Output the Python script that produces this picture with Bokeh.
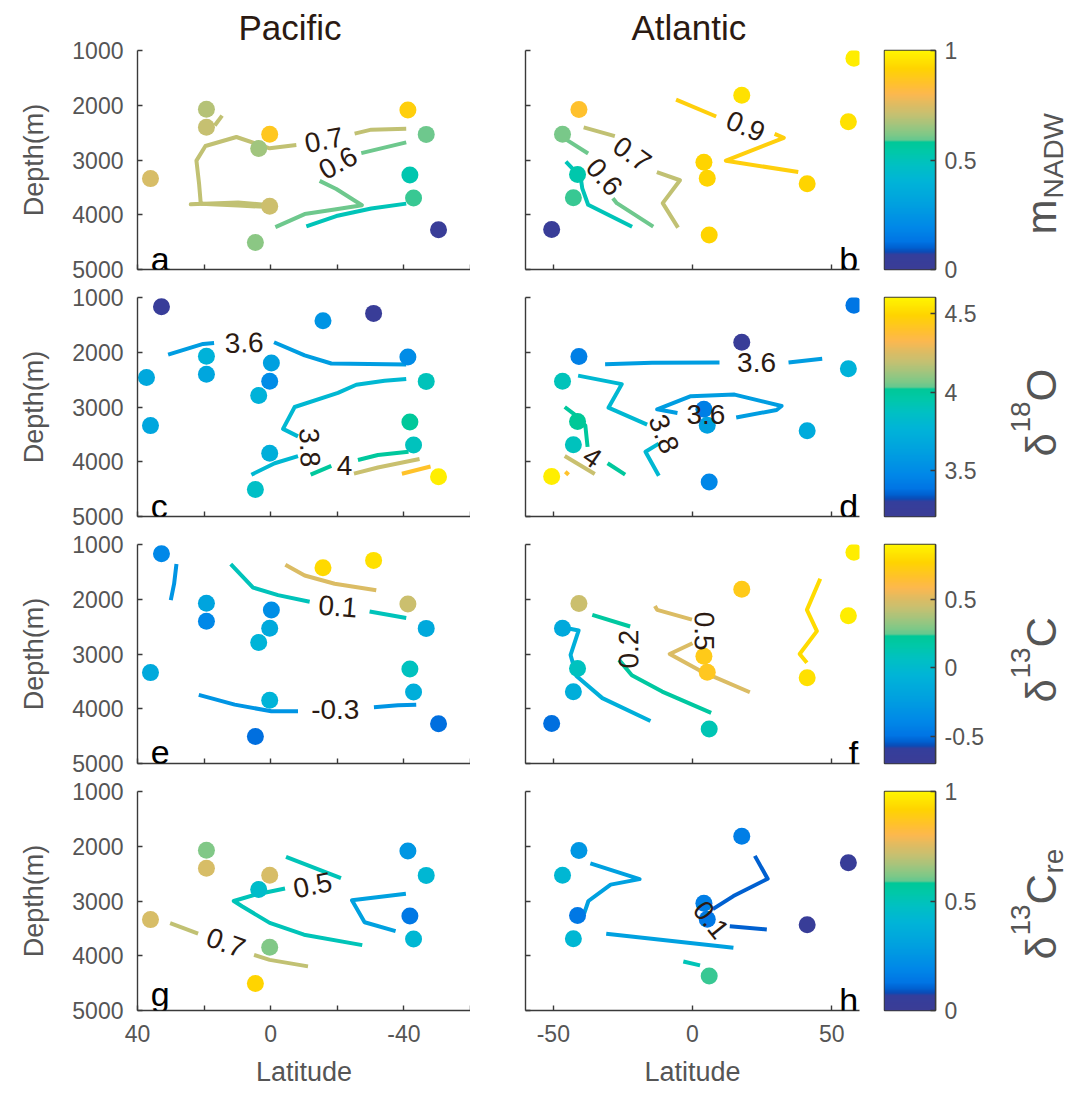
import numpy as np
from bokeh.plotting import figure
from bokeh.layouts import column, row
from bokeh.models import Range1d, FixedTicker, LinearColorMapper, ColumnDataSource, Label
from bokeh.core.properties import value
from bokeh.embed import file_html
from bokeh.resources import INLINE

# ------------------------------------------------------------------ data
# Panel a : m_NADW, Pacific
a_lat = [19.3, 19.3, 0.3, 3.6, 36.1, 0.3, 4.6, -41.2, -46.7, -41.8, -42.9, -50.4]
a_dep = [2072, 2402, 2530, 2790, 3340, 3845, 4505, 2085, 2532, 3275, 3695, 4275]
a_val = [0.685, 0.71, 0.87, 0.66, 0.74, 0.72, 0.63, 0.90, 0.60, 0.52, 0.588, 0.02]
a_line_lev = [0.7, 0.7, 0.7, 0.7, 0.6, 0.6, 0.5]
a_line_lat = [[16.8, 14.6],
              [-7.7, 0.3, 10.3, 19.6, 22.3, 21.5, 21.0, 24.0, 9.8, 0.3],
              [21.0, 9.8, 0.3],
              [-25.2, -30.2, -40.7],
              [-27.2, -40.7],
              [-14.7, -19.7, -27.4, -19.2, -10.2, -1.4],
              [-10.7, -19.7, -30.2, -40.7]]
a_line_dep = [[2369, 2190],
              [2726, 2786, 2580, 2744, 3012, 3440, 3797, 3809, 3775, 3825],
              [3800, 3830, 3860],
              [2518, 2446, 2429],
              [2875, 2678],
              [3381, 3530, 3827, 3905, 3988, 4226],
              [4214, 4024, 3887, 3797]]
a_lab_txt = ["0.7", "0.6"]
a_lab_lat = [-16.0, -20.2]
a_lab_dep = [2637, 3053]
a_lab_ang = [0.19, 0.5]

# Panel b : m_NADW, Atlantic
b_lat = [58.0, 17.7, 56.0, -40.8, -46.7, 4.1, 5.3, 41.2, -41.3, -42.8, -50.6, 6.0]
b_dep = [1140, 1818, 2300, 2078, 2528, 3040, 3335, 3432, 3265, 3690, 4270, 4370]
b_val = [0.98, 0.95, 0.95, 0.85, 0.61, 0.92, 0.92, 0.92, 0.53, 0.588, 0.02, 0.92]
b_line_lev = [0.9, 0.9, 0.7, 0.7, 0.6, 0.6, 0.5]
b_line_lat = [[-5.9, 8.5],
              [29.5, 32.8, 12.0, 38.0],
              [-39.1, -27.9],
              [-12.8, -4.5, -10.7, -5.2],
              [-45.5, -37.5],
              [-28.6, -27.2, -14.1],
              [-45.5, -40.2, -39.6, -37.5, -21.7]]
b_line_dep = [[1896, 2206],
              [2522, 2594, 3012, 3221],
              [2403, 2564],
              [3221, 3370, 3788, 4236],
              [2624, 2881],
              [3698, 3788, 4218],
              [3030, 3311, 3519, 3818, 4218]]
b_lab_txt = ["0.9", "0.7", "0.6"]
b_lab_lat = [19.1, -21.7, -31.7]
b_lab_dep = [2385, 2892, 3310]
b_lab_ang = [-0.4, -0.62, -0.85]

# Panel c : d18O, Pacific
c_lat = [32.8, -15.7, -30.9, 19.3, 19.3, 37.3, -0.2, 0.3, 3.6, -41.2, -46.7, 36.1, 0.3, -41.8, -42.9, 4.6, -50.4]
c_dep = [1170, 1425, 1290, 2072, 2402, 2463, 2195, 2530, 2790, 2085, 2532, 3340, 3845, 3275, 3695, 4505, 4275]
c_val = [3.25, 3.55, 3.24, 3.75, 3.66, 3.68, 3.62, 3.50, 3.75, 3.50, 3.90, 3.66, 3.72, 4.01, 3.89, 3.86, 4.58]
c_line_lev = [3.6, 3.6, 3.8, 3.8, 4.0, 4.0, 4.2, 4.4]
c_line_lat = [[30.8, 20.3, 17.0],
              [-1.0, -10.2, -18.2, -40.7],
              [-40.7, -34.2, -25.7, -20.2, -7.2, -3.7, -8.2],
              [-8.2, -1.2, 5.8],
              [-12.0, -18.2],
              [-26.2, -32.2, -41.4],
              [-25.0, -32.2, -44.7],
              [-39.4, -48.0]]
c_line_dep = [[2045, 1848, 1830],
              [1818, 2057, 2206, 2224],
              [2487, 2522, 2594, 2743, 3000, 3400, 3537],
              [3896, 4027, 4236],
              [4236, 4075],
              [3967, 3877, 3818],
              [4218, 4104, 3949],
              [4218, 4087]]
c_lab_txt = ["3.6", "3.8", "4"]
c_lab_lat = [8.0, -11.7, -22.2]
c_lab_dep = [1830, 3740, 4060]
c_lab_ang = [0.03, -1.52, 0.0]

# Panel d : d18O, Atlantic
d_lat = [58.0, 17.7, 56.0, -40.8, -46.7, 4.1, 5.3, 41.2, -41.3, -42.8, -50.6, 6.0]
d_dep = [1140, 1818, 2300, 2078, 2528, 3040, 3335, 3432, 3265, 3690, 4270, 4370]
d_val = [3.39, 3.24, 3.75, 3.43, 3.90, 3.43, 3.62, 3.70, 4.02, 3.89, 4.58, 3.47]
d_line_lev = [3.6, 3.6, 3.6, 3.8, 3.8, 4.0, 4.0, 4.2, 4.4]
d_line_lat = [[-31.4, -14.5, 9.7],
              [34.5, 46.6],
              [-5.4, -12.7, -0.6, 15.1, 32.0, 30.2, 15.7],
              [-41.1, -25.4, -30.2, -16.3],
              [-12.1, -16.9, -12.1],
              [-45.9, -41.7, -38.5, -37.7],
              [-30.5, -24.2],
              [-45.9, -35.1],
              [-45.7, -44.5]]
d_line_dep = [[2218, 2194, 2188],
              [2188, 2117],
              [3108, 3042, 2803, 2773, 2982, 3054, 3191],
              [2427, 2582, 3012, 3322],
              [3669, 3818, 4254],
              [3000, 3161, 3340, 3728],
              [4027, 4236],
              [3896, 4224],
              [4182, 4236]]
d_lab_txt = ["3.6", "3.6", "3.8", "4"]
d_lab_lat = [23.0, 4.8, -10.3, -36.0]
d_lab_dep = [2188, 3143, 3490, 3919]
d_lab_ang = [0.0, 0.0, -1.2, -0.6]

# Panel e : d13C, Pacific
e_lat = [32.8, -15.7, -30.9, 19.3, 19.3, -0.2, 0.3, 3.6, -41.2, -46.7, 36.1, 0.3, -41.8, -42.9, 4.6, -50.4]
e_dep = [1170, 1425, 1290, 2072, 2402, 2195, 2530, 2790, 2085, 2532, 3340, 3845, 3275, 3695, 4505, 4275]
e_val = [-0.39, 0.79, 0.82, -0.19, -0.39, -0.35, -0.15, -0.06, 0.45, -0.15, -0.15, -0.06, 0.08, -0.11, -0.51, -0.51]
e_line_lev = [-0.3, 0.1, 0.1, 0.5, -0.3, -0.3]
e_line_lat = [[28.3, 29.0, 30.0],
              [12.0, 5.3, -2.2, -11.7],
              [-29.7, -40.7],
              [-4.4, -10.2, -19.2, -31.7],
              [21.6, 10.8, -0.2, -8.2],
              [-31.0, -38.2, -43.7]]
e_line_dep = [[1358, 1716, 2015],
              [1358, 1788, 1925, 2045],
              [2224, 2343],
              [1370, 1567, 1716, 1836],
              [3746, 3925, 4045, 4045],
              [3973, 3937, 3925]]
e_lab_txt = ["0.1", "-0.3"]
e_lab_lat = [-20.2, -19.4]
e_lab_dep = [2134, 4015]
e_lab_ang = [-0.08, 0.0]

# Panel f : d13C, Atlantic
f_lat = [58.0, 17.7, 56.0, -40.8, -46.7, 4.1, 5.3, 41.2, -41.3, -42.8, -50.6, 6.0]
f_dep = [1140, 1818, 2300, 2078, 2528, 3040, 3335, 3432, 3265, 3690, 4270, 4370]
f_val = [0.87, 0.71, 0.87, 0.45, -0.15, 0.71, 0.69, 0.82, 0.08, -0.11, -0.51, 0.12]
f_line_lev = [-0.1, 0.2, 0.2, 0.5, 0.5, 0.8]
f_line_lat = [[-44.5, -40.9, -43.8, -41.7, -32.4, -15.1],
              [-36.0, -22.4],
              [-26.4, -21.8, -10.9, 6.7],
              [-13.5, -12.7, -0.2],
              [0.0, -8.2, 3.6, 20.6],
              [45.9, 41.1, 44.7, 38.5, 41.1]]
f_line_dep = [[2534, 2570, 3018, 3400, 3806, 4224],
              [2284, 2498],
              [3107, 3388, 3687, 4075],
              [2122, 2194, 2373],
              [2803, 3000, 3328, 3698],
              [1627, 2194, 2582, 3000, 3161]]
f_lab_txt = ["0.2", "0.5"]
f_lab_lat = [-22.9, 4.2]
f_lab_dep = [2910, 2582]
f_lab_ang = [1.57, -1.57]

# Panel g : d13Cre, Pacific
g_lat = [19.3, 19.3, 0.3, 3.6, 36.1, 0.3, 4.6, -41.2, -46.7, -41.8, -42.9]
g_dep = [2072, 2402, 2530, 2790, 3340, 3845, 4505, 2085, 2532, 3275, 3695]
g_val = [0.62, 0.74, 0.74, 0.45, 0.74, 0.62, 0.92, 0.25, 0.42, 0.14, 0.42]
g_line_lev = [0.5, 0.5, 0.3, 0.7, 0.7]
g_line_lat = [[-4.6, -21.1],
              [-4.3, 4.4, 11.1, 8.5, 0.3, -10.0, -27.5],
              [-40.6, -24.4, -28.2, -37.5],
              [30.2, 21.8],
              [5.0, 0.3, -11.2]]
g_line_dep = [[2194, 2582],
              [2773, 2880, 3000, 3101, 3400, 3615, 3806],
              [2869, 2988, 3388, 3549],
              [3406, 3597],
              [3985, 4075, 4194]]
g_lab_txt = ["0.5", "0.7"]
g_lab_lat = [-12.6, 13.5]
g_lab_dep = [2713, 3764]
g_lab_ang = [0.2, -0.35]

# Panel h : d13Cre, Atlantic
h_lat = [17.7, 56.0, -40.8, -46.7, 4.1, 5.3, 41.2, -41.3, -42.8, 6.0]
h_dep = [1818, 2300, 2078, 2528, 3040, 3335, 3432, 3265, 3690, 4370]
h_val = [0.16, 0.03, 0.25, 0.42, 0.16, 0.14, 0.03, 0.14, 0.42, 0.588]
h_line_lev = [0.3, 0.3, 0.1, 0.1, 0.5]
h_line_lat = [[-36.7, -29.4, -19.0, -29.4, -37.4, -39.0],
              [-31.0, 14.7],
              [22.4, 27.0, 14.7, 7.3],
              [13.4, 26.7],
              [-3.3, 2.7]]
h_line_dep = [[2313, 2433, 2600, 2701, 3000, 3239],
              [3597, 3854],
              [2176, 2594, 2910, 3149],
              [3460, 3519],
              [4104, 4176]]
h_lab_txt = ["0.1"]
h_lab_lat = [6.7]
h_lab_dep = [3346]
h_lab_ang = [-0.9]

# colour scales (one per row)
scale_lo = [0.0, 3.206, -0.698, 0.0]
scale_hi = [1.0, 4.604, 0.902, 1.0]
scale_ticks = [[0, 0.5, 1], [3.5, 4, 4.5], [-0.5, 0, 0.5], [0, 0.5, 1]]
scale_tick_labels = [["0", "0.5", "1"], ["3.5", "4", "4.5"], ["-0.5", "0", "0.5"], ["0", "0.5", "1"]]

ocean_titles = ["Pacific", "Atlantic"]
panel_letters = ["a", "b", "c", "d", "e", "f", "g", "h"]
pac_ticks = [40, 0, -40]
pac_tick_labels = ["40", "0", "-40"]
pac_minor_ticks = [20, -20, -60]
atl_ticks = [-50, 0, 50]
atl_tick_labels = ["-50", "0", "50"]
depth_ticks = [1000, 2000, 3000, 4000, 5000]

# colour-bar titles: pieces (text, small?, start along text in px, baseline shift in px)
title_pieces = [
    [("m", False, 234, 0), ("NADW", True, 198, 12)],
    [("\u03b4", False, 456, 0), ("18", True, 432, -21), ("O", False, 401, 0)],
    [("\u03b4", False, 702, 0), ("13", True, 678, -21), ("C", False, 647, 0)],
    [("\u03b4", False, 959, 0), ("13", True, 935, -21), ("C", False, 904, 0), ("re", True, 873, 12)],
]

# ------------------------------------------------------------------ style
cmap_pos = [0.0, 0.069, 0.079, 0.098, 0.124, 0.19, 0.295, 0.40, 0.474, 0.534,
            0.586, 0.590, 0.623, 0.668, 0.712, 0.75, 0.80, 0.846, 0.921, 1.0]
cmap_hex = ["#3b3d96", "#343e9c", "#0a4cb8", "#0060d0", "#0074e4", "#0088e8",
            "#00a0e0", "#00b4d8", "#00c0c4", "#00c8aa", "#00c896", "#64c890",
            "#84c886", "#a8c47c", "#c8c070", "#dcbc64", "#fcb850", "#ffc030",
            "#ffd400", "#fff500"]


def hex2rgb(h):
    return [int(h[i:i + 2], 16) for i in (1, 3, 5)]


_rgb = np.array([hex2rgb(h) for h in cmap_hex], dtype=float)
_t = np.linspace(0, 1, 256)
PAL = ["#%02x%02x%02x" % tuple(int(round(np.interp(tt, cmap_pos, _rgb[:, k]))) for k in range(3)) for tt in _t]

FONT = "Liberation Sans"
AXC = "#3a3a3a"
TXT = "#555555"
DARK = "#2b1a12"
FRAME_H = 219
TOPS = [50, 14, 14, 14]
BOTS = [14, 14, 14, 83]
FRAME_TOP_PX = [50, 297, 544, 791]
BASE_PX = 1041
TITLE_LEFT_PX = 990
TITLE_OFFSETS = [101, 106]

panels = [
    (a_lat, a_dep, a_val, a_line_lev, a_line_lat, a_line_dep, a_lab_txt, a_lab_lat, a_lab_dep, a_lab_ang),
    (b_lat, b_dep, b_val, b_line_lev, b_line_lat, b_line_dep, b_lab_txt, b_lab_lat, b_lab_dep, b_lab_ang),
    (c_lat, c_dep, c_val, c_line_lev, c_line_lat, c_line_dep, c_lab_txt, c_lab_lat, c_lab_dep, c_lab_ang),
    (d_lat, d_dep, d_val, d_line_lev, d_line_lat, d_line_dep, d_lab_txt, d_lab_lat, d_lab_dep, d_lab_ang),
    (e_lat, e_dep, e_val, e_line_lev, e_line_lat, e_line_dep, e_lab_txt, e_lab_lat, e_lab_dep, e_lab_ang),
    (f_lat, f_dep, f_val, f_line_lev, f_line_lat, f_line_dep, f_lab_txt, f_lab_lat, f_lab_dep, f_lab_ang),
    (g_lat, g_dep, g_val, g_line_lev, g_line_lat, g_line_dep, g_lab_txt, g_lab_lat, g_lab_dep, g_lab_ang),
    (h_lat, h_dep, h_val, h_line_lev, h_line_lat, h_line_dep, h_lab_txt, h_lab_lat, h_lab_dep, h_lab_ang),
]


def style_axis(ax, show_labels):
    ax.axis_line_color = AXC
    ax.axis_line_width = 1.4
    ax.major_tick_line_color = AXC
    ax.major_tick_line_width = 1.4
    ax.major_tick_in = 5
    ax.major_tick_out = 0
    ax.minor_tick_line_color = AXC
    ax.minor_tick_line_width = 1.4
    ax.minor_tick_in = 5
    ax.minor_tick_out = 0
    ax.major_label_text_font = FONT
    if show_labels:
        ax.major_label_text_color = TXT
        ax.major_label_text_font_size = "23px"
        ax.major_label_standoff = 14
    else:
        ax.major_label_text_color = None
        ax.major_label_text_font_size = "1px"
        ax.major_label_standoff = 0
    ax.axis_label_text_font = FONT
    ax.axis_label_text_font_size = "27px"
    ax.axis_label_text_font_style = "normal"
    ax.axis_label_text_color = TXT


def base_fig(r, **kw):
    p = figure(frame_height=FRAME_H, min_border_top=TOPS[r], min_border_bottom=BOTS[r],
               output_backend="svg", toolbar_location=None, **kw)
    p.xgrid.grid_line_color = None
    p.ygrid.grid_line_color = None
    p.background_fill_color = "white"
    p.border_fill_color = "white"
    return p


def data_fig(k):
    r, col = divmod(k, 2)
    lat, dep, val, llev, llat, ldep, ltxt, tlat, tdep, tang = panels[k]
    mapper = LinearColorMapper(palette=PAL, low=scale_lo[r], high=scale_hi[r])
    if col == 0:
        p = base_fig(r, frame_width=333, min_border_left=137, min_border_right=0,
                     x_range=Range1d(40, -60), y_range=Range1d(5000, 1000))
        ticker = FixedTicker(ticks=pac_ticks, minor_ticks=pac_minor_ticks)
        overrides = {t: s for t, s in zip(pac_ticks, pac_tick_labels)}
    else:
        p = base_fig(r, frame_width=334, min_border_left=55, min_border_right=11,
                     x_range=Range1d(-60, 60), y_range=Range1d(5000, 1000))
        ticker = FixedTicker(ticks=atl_ticks)
        overrides = {t: s for t, s in zip(atl_ticks, atl_tick_labels)}
    p.outline_line_color = None
    if r == 0:
        p.title.text = ocean_titles[col]
        p.title.align = "left"
        p.title.offset = TITLE_OFFSETS[col]
        p.title.text_font = FONT
        p.title.text_font_size = "35px"
        p.title.text_font_style = "normal"
        p.title.text_color = DARK
        p.title.standoff = 8

    xa, ya = p.xaxis[0], p.yaxis[0]
    style_axis(xa, r == 3)
    style_axis(ya, col == 0)
    xa.ticker = ticker
    xa.major_label_overrides = overrides
    ya.ticker = FixedTicker(ticks=depth_ticks)
    ya.major_label_overrides = {t: str(t) for t in depth_ticks}
    if col == 0:
        ya.axis_label = "Depth(m)"
        ya.axis_label_standoff = 20
    if r == 3:
        xa.axis_label = "Latitude"
        xa.axis_label_standoff = 12

    lsrc = ColumnDataSource(dict(xs=llat, ys=ldep, lev=llev))
    p.multi_line(xs="xs", ys="ys", source=lsrc, line_width=4, line_join="round",
                 line_color={"field": "lev", "transform": mapper})
    psrc = ColumnDataSource(dict(lat=lat, dep=dep, v=val))
    p.scatter(x="lat", y="dep", source=psrc, size=17, line_color=None,
              fill_color={"field": "v", "transform": mapper})
    tsrc = ColumnDataSource(dict(x=tlat, y=tdep, t=ltxt, a=tang))
    p.text(x="x", y="y", text="t", angle="a", source=tsrc, text_font=value(FONT),
           text_font_size="28px", text_color=DARK, text_align="center", text_baseline="middle")

    letter = panel_letters[k]
    if col == 0:
        p.add_layout(Label(x=36.0, y=(4700 if letter == "g" else 4800), text=letter, text_font=FONT,
                           text_font_size="34px", text_color="black", text_align="left",
                           text_baseline="alphabetic"))
    else:
        p.add_layout(Label(x=59.5, y=4800, text=letter, text_font=FONT,
                           text_font_size="34px", text_color="black", text_align="right",
                           text_baseline="alphabetic"))
    return p


def cbar_fig(r):
    lo, hi = scale_lo[r], scale_hi[r]
    mapper = LinearColorMapper(palette=PAL, low=lo, high=hi)
    c = base_fig(r, frame_width=51, min_border_left=14, min_border_right=55,
                 x_range=Range1d(0, 1), y_range=Range1d(lo, hi), y_axis_location="right")
    c.xaxis.visible = False
    grad = np.linspace(lo, hi, 512).reshape(512, 1)
    c.image(image=[grad], x=0, y=lo, dw=1, dh=hi - lo, color_mapper=mapper)
    c.outline_line_color = AXC
    c.outline_line_width = 1.5
    ya = c.yaxis[0]
    style_axis(ya, True)
    ya.major_label_standoff = 9
    ya.ticker = FixedTicker(ticks=scale_ticks[r])
    ya.major_label_overrides = {t: s for t, s in zip(scale_ticks[r], scale_tick_labels[r])}
    return c


def cbar_title_fig(r):
    top_px = FRAME_TOP_PX[r]
    bot_px = top_px + FRAME_H
    t = base_fig(r, frame_width=1080 - TITLE_LEFT_PX, min_border_left=0, min_border_right=0,
                 x_range=Range1d(TITLE_LEFT_PX, 1080), y_range=Range1d(bot_px, top_px),
                 x_axis_type=None, y_axis_type=None)
    t.outline_line_color = None
    pieces = title_pieces[r]
    src = ColumnDataSource(dict(
        x=[BASE_PX + pc[3] for pc in pieces],
        y=[pc[2] for pc in pieces],
        t=[pc[0] for pc in pieces],
        s=["28px" if pc[1] else "42px" for pc in pieces]))
    t.text(x="x", y="y", text="t", source=src, angle=np.pi / 2, text_font=value(FONT),
           text_font_size="s", text_color=TXT, text_align="left", text_baseline="alphabetic")
    return t


rows = []
for r in range(4):
    rows.append(row(data_fig(2 * r), data_fig(2 * r + 1), cbar_fig(r), cbar_title_fig(r)))
layout = column(*rows)

open("out.html", "w").write(file_html(layout, INLINE))
